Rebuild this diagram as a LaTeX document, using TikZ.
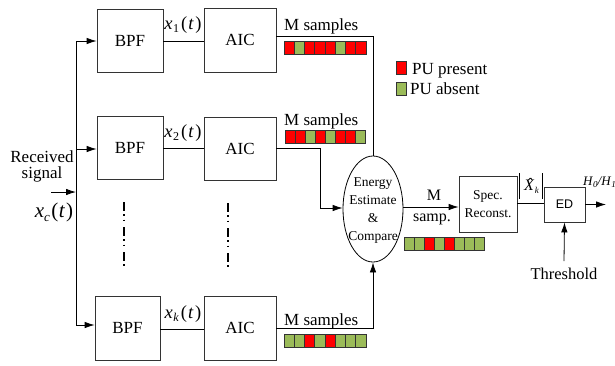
\documentclass[tikz,border=0pt]{standalone}
\usepackage{fontspec}
\setmainfont{Liberation Serif}
\newfontfamily\arialfont{Liberation Sans}
\usetikzlibrary{arrows.meta,shapes.geometric}
\definecolor{pr}{HTML}{FF0000}
\definecolor{pg}{HTML}{9BBB59}
\definecolor{bord}{HTML}{333333}
\newcommand{\myfs}[1]{\fontsize{#1}{#1}\selectfont}
\newcommand{\myfsb}[2]{\fontsize{#1}{#2}\selectfont}
\newcommand{\xsub}[1]{\textit{x}\kern0.5pt\raisebox{-3.5pt}{\myfs{12}#1}\kern2pt(\kern1pt\textit{t}\kern1.5pt)}
\newcommand{\sbar}[4]{\foreach \cc [count=\i from 0] in {#4} {\filldraw[fill=\cc, draw=bord, line width=0.7pt] ({#1+\i*#3},#2) rectangle ++(#3,13);}}
\tikzset{
  box/.style={draw=bord, line width=0.8pt, inner sep=0pt},
  ln/.style={line width=0.8pt, draw=black},
  arr/.style={ln, -{Latex[length=10pt,width=6.5pt]}},
  dots/.style={line width=1.6pt, dash pattern=on 9pt off 3pt on 1.5pt off 4pt on 1.5pt off 6pt},
  txt/.style={inner sep=0pt, font=\myfs{17}}
}
\begin{document}
\begin{tikzpicture}[x=1pt,y=-1pt]
\useasboundingbox (0,0) rectangle (615,365);

% blocks
\node[box, minimum width=66pt, minimum height=63pt, font=\myfs{17}] (bpf1) at (130,40.5) {BPF};
\node[box, minimum width=72pt, minimum height=64pt, font=\myfs{17}] (aic1) at (240,40) {AIC};
\node[box, minimum width=66pt, minimum height=63pt, font=\myfs{17}] (bpf2) at (130,148) {BPF};
\node[box, minimum width=72pt, minimum height=63pt, font=\myfs{17}] (aic2) at (240,148.5) {AIC};
\node[box, minimum width=65pt, minimum height=64pt, font=\myfs{17}] (bpf3) at (127.5,328) {BPF};
\node[box, minimum width=72pt, minimum height=64pt, font=\myfs{17}] (aic3) at (240,328) {AIC};

% signal labels
\node[txt, anchor=base, font=\myfs{18.5}] (l1) at (183,29) {\xsub{1}};
\node[txt, anchor=base, font=\myfs{18.5}] (l2) at (183,137) {\xsub{2}};
\node[txt, anchor=base, font=\myfs{18.5}] (l3) at (183,318) {\xsub{\textit{k}}};

\draw[ln] (bpf1.east |- 0,41) -- (aic1.west |- 0,41);
\draw[ln] (bpf2.east |- 0,148) -- (aic2.west |- 0,148);
\draw[ln] (bpf3.east |- 0,329) -- (aic3.west |- 0,329);

% input trunk
\coordinate (t1) at (76,41);
\coordinate (t2) at (76,149);
\coordinate (t3) at (76,325);
\coordinate (tin) at (76,192);
\coordinate (sin) at (51,192);
\draw[ln] (t1) -- (t3);
\draw[arr] (t1) -- (t1 -| bpf1.west);
\draw[arr] (t2) -- (t2 -| bpf2.west);
\draw[arr] (t3) -- (t3 -| bpf3.west);
\draw[arr] (sin) -- (tin);
\node[txt, align=center, font=\myfsb{17}{16}, anchor=base] (rs) at (42,178) {Received\\signal};
\node[txt, anchor=base, font=\myfs{21}] (xc) at (54,217) {\textit{x}\raisebox{-4pt}{\myfs{13}\textit{c}}\kern1.5pt(\kern0.5pt\textit{t}\kern1pt)};

% vertical dots
\draw[dots] (124,202) -- (124,268);
\draw[dots] (228,203) -- (228,269);

% energy ellipse
\node[ellipse, draw=black, line width=0.8pt, minimum width=60pt, minimum height=106pt, inner sep=0pt] (ell) at (373,209) {};
\node[align=center, inner sep=0pt, font=\myfsb{13.5}{18.3}] (elltxt) at (373,210.5) {Energy\\Estimate\\\&\\Compare};

% AIC outputs
\coordinate (o1) at (276,36);
\coordinate (c1) at (373,36);
\draw[ln] (o1) -- (c1) -- (ell.north);
\coordinate (o2) at (276,148);
\coordinate (c2a) at (320,148);
\coordinate (c2b) at (320,208);
\draw[arr] (o2) -- (c2a) -- (c2b) -- (c2b -| ell.west);
\coordinate (o3) at (276,328);
\coordinate (c3) at (373,328);
\draw[arr] (o3) -- (c3) -- (ell.south);

% M samples labels and bars
\node[txt, anchor=base west] (ms1) at (284,30) {M samples};
\node[txt, anchor=base west] (ms2) at (284,125) {M samples};
\node[txt, anchor=base west] (ms3) at (284,325) {M samples};
\sbar{284}{41}{10.25}{pr,pg,pr,pr,pr,pg,pr,pr}
\sbar{285}{130.5}{10}{pr,pr,pg,pr,pg,pr,pr,pg}
\sbar{284}{334}{10.25}{pg,pg,pr,pg,pr,pg,pg,pg}
\sbar{404}{237}{10}{pg,pg,pr,pg,pr,pg,pg,pg}

% legend
\filldraw[fill=pr, draw=bord, line width=0.7pt] (396,61) rectangle (406,74);
\filldraw[fill=pg, draw=bord, line width=0.7pt] (396,82) rectangle (406,95);
\node[txt, anchor=base west] (lg1) at (412,74) {PU present};
\node[txt, anchor=base west] (lg2) at (410,94.5) {PU absent};

% spectrum reconstruction
\node[box, minimum width=58pt, minimum height=56pt, align=center, font=\myfsb{13.5}{18}] (spec) at (488,204) {Spec.\\Reconst.};
\coordinate (m1) at (403,207);
\draw[arr] (m1) -- (m1 -| spec.west);
\node[txt, anchor=base, font=\myfs{16}] (mm) at (434,200) {M};
\node[txt, anchor=base, font=\myfs{16}] (mp) at (432,221) {samp.};

% ED
\node[box, minimum width=41pt, minimum height=35pt, font=\arialfont\myfs{12.5}] (ed) at (564.5,204.5) {ED};
\draw[ln] (spec.east |- 0,203.5) -- (ed.west |- 0,203.5);
\node[txt, anchor=base west, font=\myfs{16}] (xk) at (524,190) {\textit{X}\llap{\raisebox{1pt}{\textit{\char"02C6}}\kern2pt}\kern0.5pt\raisebox{-3pt}{\myfs{9}\textit{k}}};
\draw[line width=0.7pt] (519.5,173) -- (519.5,199);
\draw[line width=0.7pt] (542,173) -- (542,199);
\coordinate (hout) at (606,204.5);
\draw[arr] (ed.east) -- (hout);
\node[txt, anchor=base west, font=\myfs{13}] (hh) at (583,185) {\textit{H}\raisebox{-2pt}{\myfs{9}\textit{0}}\textit{/H}\raisebox{-2pt}{\myfs{9}\textit{1}}};
\node[txt, anchor=base, font=\myfs{16.5}] (thr) at (564,279) {Threshold};
\coordinate (thb) at (564,261);
\draw[arr] (thb) -- (ed.south);
\end{tikzpicture}
\end{document}
